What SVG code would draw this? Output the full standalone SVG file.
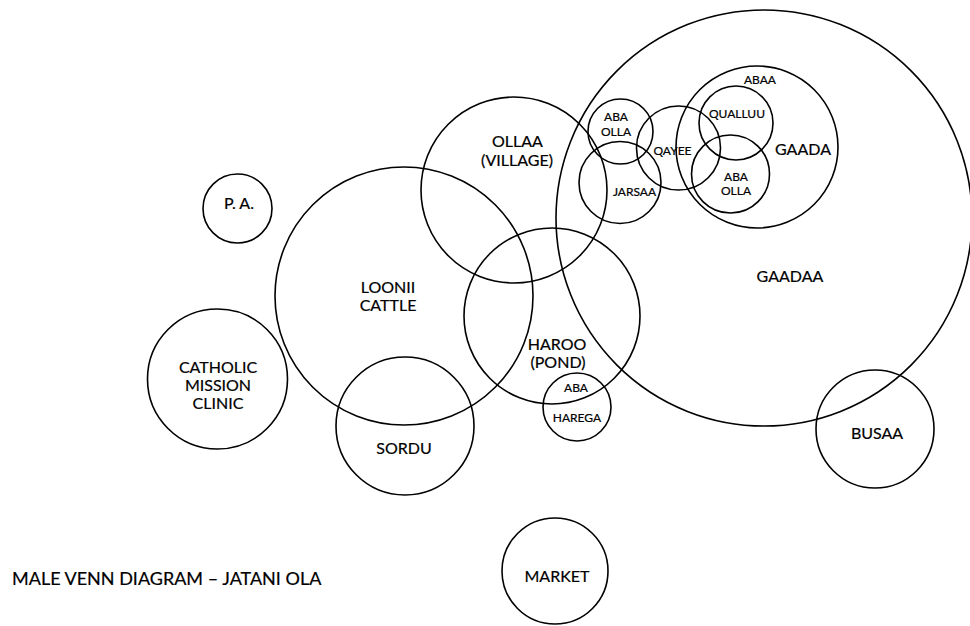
<svg xmlns="http://www.w3.org/2000/svg" width="970" height="626" viewBox="0 0 970 626">
  <style>
    .c { fill: none; stroke: #000; stroke-width: 1.6; }
    .t { font-family: Lato, "Open Sans", "Liberation Sans", sans-serif; fill: #000; stroke: #000; stroke-width: 0.2; text-anchor: middle; }
    .lg { font-size: 16px; }
    .sm { font-size: 12px; }
    .title { font-family: Lato, "Open Sans", "Liberation Sans", sans-serif; font-size: 18px; fill: #000; stroke: #000; stroke-width: 0.2; }
  </style>
  <rect width="970" height="626" fill="#fff"/>

  <g id="gaadaa">
    <circle class="c" cx="764" cy="218" r="208"/>
    <text class="t lg" x="790" y="282">GAADAA</text>
  </g>
  <g id="gaada">
    <circle class="c" cx="757" cy="147" r="81"/>
    <text class="t lg" x="803" y="155">GAADA</text>
    <text class="t sm" x="760" y="84">ABAA</text>
  </g>
  <g id="qualluu">
    <circle class="c" cx="736" cy="123" r="37"/>
    <text class="t sm" x="737" y="118">QUALLUU</text>
  </g>
  <g id="aba-olla-east">
    <circle class="c" cx="730.5" cy="174" r="39"/>
    <text class="t sm" x="736" y="181">ABA</text>
    <text class="t sm" x="736" y="195">OLLA</text>
  </g>
  <g id="qayee">
    <circle class="c" cx="678.5" cy="148" r="42"/>
    <text class="t sm" x="672.5" y="155">QAYEE</text>
  </g>
  <g id="aba-olla-west">
    <circle class="c" cx="620.5" cy="131.5" r="32.5"/>
    <text class="t sm" x="616" y="121">ABA</text>
    <text class="t sm" x="616" y="136">OLLA</text>
  </g>
  <g id="jarsaa">
    <circle class="c" cx="620" cy="182.5" r="41"/>
    <text class="t sm" x="634.5" y="196">JARSAA</text>
  </g>
  <g id="ollaa">
    <circle class="c" cx="514" cy="190" r="93"/>
    <text class="t lg" x="517.5" y="147">OLLAA</text>
    <text class="t lg" x="517" y="166">(VILLAGE)</text>
  </g>
  <g id="loonii">
    <circle class="c" cx="404" cy="296" r="129"/>
    <text class="t lg" x="388" y="293">LOONII</text>
    <text class="t lg" x="388" y="311">CATTLE</text>
  </g>
  <g id="haroo">
    <circle class="c" cx="552" cy="316" r="88"/>
    <text class="t lg" x="557" y="350">HAROO</text>
    <text class="t lg" x="558" y="368">(POND)</text>
  </g>
  <g id="aba-harega">
    <circle class="c" cx="577" cy="407" r="34"/>
    <text class="t sm" x="576" y="392">ABA</text>
    <text class="t sm" x="577" y="422">HAREGA</text>
  </g>
  <g id="pa">
    <circle class="c" cx="237.5" cy="208.5" r="34.5"/>
    <text class="t lg" x="239" y="209">P. A.</text>
  </g>
  <g id="catholic-mission-clinic">
    <circle class="c" cx="217.5" cy="379" r="70"/>
    <text class="t lg" x="218" y="373">CATHOLIC</text>
    <text class="t lg" x="218" y="391">MISSION</text>
    <text class="t lg" x="218" y="409">CLINIC</text>
  </g>
  <g id="sordu">
    <circle class="c" cx="405" cy="426" r="69"/>
    <text class="t lg" x="404" y="454">SORDU</text>
  </g>
  <g id="busaa">
    <circle class="c" cx="875" cy="429" r="59"/>
    <text class="t lg" x="877" y="439">BUSAA</text>
  </g>
  <g id="market">
    <circle class="c" cx="555" cy="571" r="53"/>
    <text class="t lg" x="557" y="582">MARKET</text>
  </g>

  <g id="connectors"/>

  <text class="title" x="12" y="585">MALE VENN DIAGRAM – JATANI OLA</text>
</svg>
